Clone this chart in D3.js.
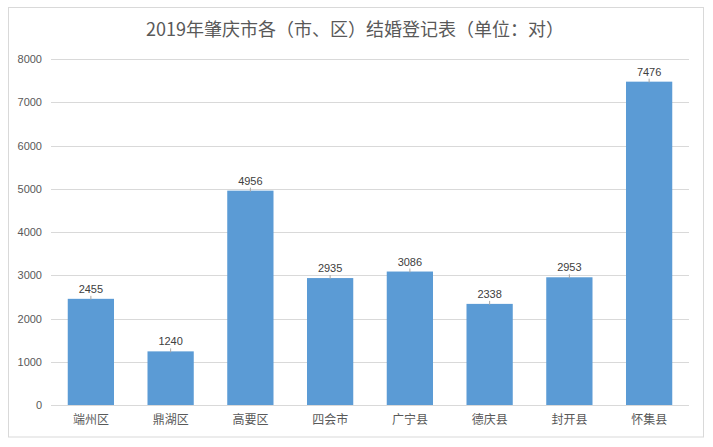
<!DOCTYPE html>
<html><head><meta charset="utf-8">
<script src="https://cdn.jsdelivr.net/npm/d3@7"></script>
<style>body{margin:0;background:#fff;}svg{display:block;}</style>
</head><body>
<svg id="c" width="713" height="447"></svg>
<script>
const title = "2019年肇庆市各（市、区）结婚登记表（单位：对）";
const categories = ["端州区","鼎湖区","高要区","四会市","广宁县","德庆县","封开县","怀集县"];
const values = [2455,1240,4956,2935,3086,2338,2953,7476];
const yTicks = [0,1000,2000,3000,4000,5000,6000,7000,8000];

const svg = d3.select("#c");
svg.append("rect").attr("x",8.5).attr("y",7.5).attr("width",695).attr("height",429.5)
  .attr("fill","#fff").attr("stroke","#d9d9d9").attr("stroke-width",1);

const L=51, R=689, T=59, B=405;
const x = d3.scaleBand().domain(categories).range([L,R]).paddingInner(0.42).paddingOuter(0.21);
const y = d3.scaleLinear().domain([0,8000]).range([B,T]);

svg.append("text").attr("x",355).attr("y",36).attr("text-anchor","middle")
  .attr("font-family","'Noto Sans CJK SC'").attr("font-size",18).attr("fill","#595959").text(title);

const grid = svg.append("g");
grid.selectAll("line").data(yTicks).join("line")
  .attr("x1",L).attr("x2",R).attr("y1",d=>Math.round(y(d))+0.5).attr("y2",d=>Math.round(y(d))+0.5)
  .attr("stroke","#d9d9d9").attr("stroke-width",1);

const yAxis = d3.axisLeft(y).tickValues(yTicks).tickSize(0).tickPadding(9).tickFormat(d3.format("d"));
const ga = svg.append("g").attr("transform",`translate(${L},0)`).call(yAxis);
ga.select(".domain").remove();
ga.selectAll("text").attr("font-family","'Liberation Sans', Arial").attr("font-size",11).attr("fill","#595959");

svg.append("g").selectAll("rect").data(values).join("rect")
  .attr("x",(d,i)=>x(categories[i])).attr("width",x.bandwidth())
  .attr("y",d=>y(d)).attr("height",d=>B-y(d)).attr("fill","#5B9BD5");

svg.append("g").selectAll("line").data(values).join("line")
  .attr("x1",(d,i)=>x(categories[i])+x.bandwidth()/2).attr("x2",(d,i)=>x(categories[i])+x.bandwidth()/2)
  .attr("y1",d=>y(d)-3).attr("y2",d=>y(d)+1).attr("stroke","#a6a6a6").attr("stroke-width",1);

svg.append("g").selectAll("text").data(values).join("text")
  .attr("x",(d,i)=>x(categories[i])+x.bandwidth()/2).attr("y",d=>y(d)-6)
  .attr("text-anchor","middle").attr("font-family","'Liberation Sans', Arial").attr("font-size",11)
  .attr("fill","#404040").text(d=>d);

const xAxis = d3.axisBottom(x).tickSize(0).tickPadding(10);
const gx = svg.append("g").attr("transform",`translate(0,${B})`).call(xAxis);
gx.select(".domain").remove();
gx.selectAll("text").attr("font-family","'Noto Sans CJK SC'").attr("font-size",12).attr("fill","#595959");
</script>
</body></html>
